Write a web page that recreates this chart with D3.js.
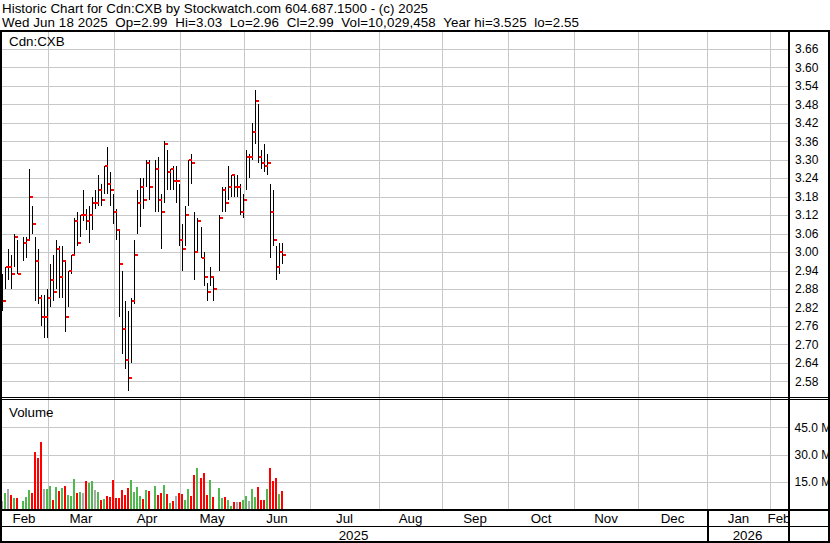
<!DOCTYPE html>
<html><head><meta charset="utf-8">
<script src="https://cdn.jsdelivr.net/npm/d3@7"></script>
<style>
html,body{margin:0;padding:0;background:#fff;}
svg{display:block;}
text{font-family:"Liberation Sans",Arial,sans-serif;fill:#000;}
</style></head><body>
<svg id="chart" width="830" height="543"></svg>
<script>
const headerLine1 = "Historic Chart for Cdn:CXB by Stockwatch.com 604.687.1500 - (c) 2025";
const headerLine2 = "Wed Jun 18 2025  Op=2.99  Hi=3.03  Lo=2.96  Cl=2.99  Vol=10,029,458  Year hi=3.525  lo=2.55";
const symbolLabel = "Cdn:CXB";
const volumeLabel = "Volume";

const dates = [
"2025-02-07","2025-02-10","2025-02-11","2025-02-12","2025-02-13","2025-02-14",
"2025-02-18","2025-02-19","2025-02-20","2025-02-21",
"2025-02-24","2025-02-25","2025-02-26","2025-02-27","2025-02-28",
"2025-03-03","2025-03-04","2025-03-05","2025-03-06","2025-03-07",
"2025-03-10","2025-03-11","2025-03-12","2025-03-13","2025-03-14",
"2025-03-17","2025-03-18","2025-03-19","2025-03-20","2025-03-21",
"2025-03-24","2025-03-25","2025-03-26","2025-03-27","2025-03-28",
"2025-03-31","2025-04-01","2025-04-02","2025-04-03","2025-04-04",
"2025-04-07","2025-04-08","2025-04-09","2025-04-10","2025-04-11",
"2025-04-14","2025-04-15","2025-04-16","2025-04-17",
"2025-04-21","2025-04-22","2025-04-23","2025-04-24","2025-04-25",
"2025-04-28","2025-04-29","2025-04-30","2025-05-01","2025-05-02",
"2025-05-05","2025-05-06","2025-05-07","2025-05-08","2025-05-09",
"2025-05-12","2025-05-13","2025-05-14","2025-05-15","2025-05-16",
"2025-05-20","2025-05-21","2025-05-22","2025-05-23",
"2025-05-26","2025-05-27","2025-05-28","2025-05-29","2025-05-30",
"2025-06-02","2025-06-03","2025-06-04","2025-06-05","2025-06-06",
"2025-06-09","2025-06-10","2025-06-11","2025-06-12","2025-06-13",
"2025-06-16","2025-06-17","2025-06-18"];

const highs = [
2.93,2.95,3.01,2.99,3.06,3.04,
3.05,3.05,3.27,3.15,
3.05,3.01,2.86,2.86,2.88,
2.96,2.99,3.04,3.02,3.02,
2.97,2.94,2.99,3.11,3.13,
3.12,3.20,3.14,3.15,3.18,
3.20,3.25,3.22,3.28,3.34,
3.26,3.19,3.14,3.07,2.94,
2.84,2.81,2.85,3.04,3.20,
3.24,3.24,3.30,3.30,
3.30,3.31,3.19,3.36,3.33,
3.27,3.28,3.28,3.22,3.09,
3.15,3.30,3.32,3.13,3.11,
3.08,3.00,2.90,2.95,2.92,
3.12,3.21,3.21,3.28,
3.25,3.25,3.25,3.22,3.19,
3.33,3.32,3.42,3.525,3.48,
3.33,3.35,3.32,3.22,3.20,
3.02,3.03,3.03];

const lows = [
2.81,2.88,2.91,2.88,2.95,2.93,
2.97,2.98,3.04,3.06,
2.84,2.83,2.76,2.72,2.72,
2.82,2.84,2.88,2.85,2.85,
2.74,2.82,2.93,2.99,3.02,
3.05,3.10,3.07,3.03,3.07,
3.14,3.15,3.15,3.19,3.19,
3.15,3.09,3.04,2.79,2.67,
2.62,2.55,2.64,2.83,3.06,
3.08,3.14,3.21,3.17,
3.13,3.13,3.01,3.16,3.20,
3.20,3.20,3.16,3.02,2.94,
3.02,3.15,3.22,2.91,3.00,
2.98,2.89,2.84,2.89,2.84,
2.94,3.13,3.13,3.17,
3.18,3.18,3.18,3.12,3.11,
3.20,3.24,3.30,3.35,3.29,
3.27,3.26,3.25,2.98,3.02,
2.91,2.93,2.96];

const closes = [
2.84,2.95,2.95,2.93,3.05,2.93,
3.03,3.04,3.18,3.09,
2.97,2.85,2.79,2.79,2.85,
2.91,2.87,3.01,2.92,2.97,
2.79,2.94,2.99,3.10,3.03,
3.12,3.12,3.10,3.12,3.16,
3.16,3.20,3.17,3.28,3.22,
3.20,3.13,3.07,2.96,2.75,
2.65,2.59,2.84,2.99,3.16,
3.21,3.17,3.29,3.21,
3.27,3.17,3.13,3.35,3.26,
3.27,3.23,3.23,3.04,3.01,
3.12,3.30,3.29,3.00,3.10,
2.98,2.92,2.87,2.92,2.88,
3.11,3.20,3.16,3.21,
3.25,3.21,3.21,3.13,3.17,
3.31,3.31,3.39,3.49,3.31,
3.29,3.28,3.29,3.13,3.04,
2.95,3.00,2.99];

// volume in millions of shares
const volumes = [
4.4,8.7,10.9,7.6,5.9,5.9,
4.2,6.5,10.3,8.7,
31.4,28.1,36.9,10.9,10.9,
12.6,4.8,12.0,9.8,11.5,
12.6,7.6,7.0,16.4,8.7,
9.2,8.7,15.3,14.2,15.3,
10.3,9.2,4.8,5.4,7.0,
6.5,15.9,5.9,5.9,10.3,
7.6,11.5,15.9,9.2,12.0,
7.0,5.4,10.3,9.8,
12.6,7.6,8.7,13.1,8.1,
3.1,4.2,7.0,8.7,8.1,
4.8,10.9,7.0,18.6,22.5,
17.0,19.7,7.6,15.9,6.5,
11.5,5.9,6.5,4.8,
1.5,3.7,3.7,3.7,4.8,
7.0,4.2,10.9,6.5,12.0,
4.8,4.8,10.9,22.5,15.3,
17.0,8.1,10.03];

const priceTicks = [2.58,2.64,2.70,2.76,2.82,2.88,2.94,3.00,3.06,3.12,3.18,3.24,3.30,3.36,3.42,3.48,3.54,3.60,3.66];
const volumeTicks = [15,30,45];
const volumeTickLabels = ["15.0 M","30.0 M","45.0 M"];
const monthStarts = ["2025-02-01","2025-03-01","2025-04-01","2025-05-01","2025-06-01","2025-07-01","2025-08-01","2025-09-01","2025-10-01","2025-11-01","2025-12-01","2026-01-01","2026-02-01","2026-03-01"];
const monthLabels = ["Feb","Mar","Apr","May","Jun","Jul","Aug","Sep","Oct","Nov","Dec","Jan","Feb"];
const yearStarts = ["2025-01-01","2026-01-01","2027-01-01"];
const yearLabels = ["2025","2026"];

// ---------------- drawing ----------------
const svg = d3.select("#chart");
const parse = d3.utcParse("%Y-%m-%d");
const origin = parse(dates[0]);
const isWeekday = t => t.getUTCDay() % 6 !== 0;
function wd(d){ // weekday index relative to first bar
  if (d >= origin) return d3.utcDay.range(origin, d).filter(isWeekday).length;
  return -d3.utcDay.range(d, origin).filter(isWeekday).length;
}
function lastWeekday(d){ let t = d; while(!isWeekday(t)) t = d3.utcDay.offset(t, -1); return t; }

const PL = 2, PR = 788, PT = 32, PB = 397, VT = 400, VB = 509;
const x = d3.scaleLinear().domain([0, 262]).range([2.5, 790.5]);
const y = d3.scaleLinear().domain([2.52, 3.72]).range([399.8, 30.4]);
const yv = d3.scaleLinear().domain([0, 60]).range([508.7, 400.3]);

const rows = dates.map((d,i)=>({i, date:parse(d), h:highs[i], l:lows[i], c:closes[i], v:volumes[i]}));
rows.forEach(r => r.idx = wd(r.date));
const bx = r => Math.floor(x(r.idx));

const GRID = "#c8c8c8";
const gGrid = svg.append("g").attr("shape-rendering","crispEdges");
const monthX = monthStarts.map(m => Math.floor(x(wd(lastWeekday(parse(m)))) + 1));

// vertical month gridlines
gGrid.selectAll("line.v").data(monthX.filter(v => v > PL && v < PR)).join("line")
  .attr("x1", v=>v+0.5).attr("x2", v=>v+0.5).attr("y1", PT).attr("y2", VB)
  .attr("stroke", GRID).attr("stroke-width",1);
// horizontal price gridlines
gGrid.selectAll("line.hp").data(priceTicks).join("line")
  .attr("x1", PL).attr("x2", PR).attr("y1", d=>Math.round(y(d))+0.5).attr("y2", d=>Math.round(y(d))+0.5)
  .attr("stroke", GRID).attr("stroke-width",1);
// horizontal volume gridlines
svg.append("g").attr("shape-rendering","crispEdges").selectAll("line").data(volumeTicks).join("line")
  .attr("x1", PL).attr("x2", PR).attr("y1", d=>Math.round(yv(d))+0.5).attr("y2", d=>Math.round(yv(d))+0.5)
  .attr("stroke", GRID).attr("stroke-width",1);

// price bars
const gBars = svg.append("g").attr("shape-rendering","crispEdges");
gBars.selectAll("line").data(rows).join("line")
  .attr("x1", r=>bx(r)+0.5).attr("x2", r=>bx(r)+0.5)
  .attr("y1", r=>y(r.h)).attr("y2", r=>y(r.l))
  .attr("stroke","#000").attr("stroke-width",1);
gBars.selectAll("rect").data(rows).join("rect")
  .attr("x", r=>bx(r)+1).attr("y", r=>Math.round(y(r.c))-1)
  .attr("width",3).attr("height",2).attr("fill","#ff0000");

// volume bars
const volColor = r => r.i===0 ? "#a9a9a9" : (r.c > closes[r.i-1] ? "#4fb84f" : (r.c < closes[r.i-1] ? "#ff0000" : "#a9a9a9"));
svg.append("g").attr("shape-rendering","crispEdges").selectAll("rect").data(rows).join("rect")
  .attr("x", r=>bx(r)-1).attr("width",2)
  .attr("y", r=>Math.round(yv(r.v))).attr("height", r=>VB-Math.round(yv(r.v)))
  .attr("fill", volColor);

// frame
const gF = svg.append("g").attr("shape-rendering","crispEdges").attr("fill","#000");
gF.append("rect").attr("x",0).attr("y",30).attr("width",830).attr("height",2);
gF.append("rect").attr("x",0).attr("y",30).attr("width",2).attr("height",513);
gF.append("rect").attr("x",828).attr("y",30).attr("width",2).attr("height",513);
gF.append("rect").attr("x",788).attr("y",30).attr("width",2).attr("height",513);
gF.append("rect").attr("x",0).attr("y",PB).attr("width",830).attr("height",1);
gF.append("rect").attr("x",0).attr("y",VT-1).attr("width",830).attr("height",1.2);
gF.append("rect").attr("x",0).attr("y",VB).attr("width",830).attr("height",2);
gF.append("rect").attr("x",0).attr("y",526).attr("width",830).attr("height",1);
gF.append("rect").attr("x",0).attr("y",541).attr("width",830).attr("height",2);
const yearX = yearStarts.map(m => Math.floor(x(wd(lastWeekday(parse(m)))) + 1));
yearX.filter(v => v > PL && v < PR).forEach(v =>
  gF.append("rect").attr("x",v-0.5).attr("y",511).attr("width",2).attr("height",30));

// texts
const F = 13.33;
svg.append("text").attr("x",2).attr("y",13).attr("font-size",F)
  .attr("textLength",426).attr("lengthAdjust","spacing").text(headerLine1);
svg.append("text").attr("x",2).attr("y",27).attr("font-size",F).style("white-space","pre")
  .attr("textLength",577).attr("lengthAdjust","spacing").text(headerLine2);
svg.append("text").attr("x",9).attr("y",46).attr("font-size",F).text(symbolLabel);
svg.append("text").attr("x",9).attr("y",416.7).attr("font-size",F).text(volumeLabel);

svg.selectAll("text.py").data(priceTicks).join("text").attr("class","py")
  .attr("x",795).attr("y", d=>y(d)+4.3).attr("font-size",12).text(d=>d.toFixed(2));
svg.append("defs").append("clipPath").attr("id","rclip").append("rect").attr("x",790).attr("y",400).attr("width",38).attr("height",110);
svg.append("g").attr("clip-path","url(#rclip)").selectAll("text").data(volumeTicks).join("text")
  .attr("x",794.5).attr("y", d=>yv(d)+4.3).attr("font-size",12).text((d,i)=>volumeTickLabels[i]);

svg.select("defs").append("clipPath").attr("id","pclip").append("rect").attr("x",2).attr("y",511).attr("width",786).attr("height",30);
const gM = svg.append("g").attr("clip-path","url(#pclip)");
gM.selectAll("text.m").data(monthLabels).join("text").attr("class","m")
  .attr("x",(d,i)=> (Math.max(monthX[i],0) + Math.min(monthX[i+1], PR))/2)
  .attr("y",523).attr("text-anchor","middle").attr("font-size",F).text(d=>d);
gM.selectAll("text.yr").data(yearLabels).join("text").attr("class","yr")
  .attr("x",(d,i)=> (Math.max(yearX[i],0) + Math.min(yearX[i+1], PR))/2)
  .attr("y",539.5).attr("text-anchor","middle").attr("font-size",F).text(d=>d);
</script>
</body></html>
